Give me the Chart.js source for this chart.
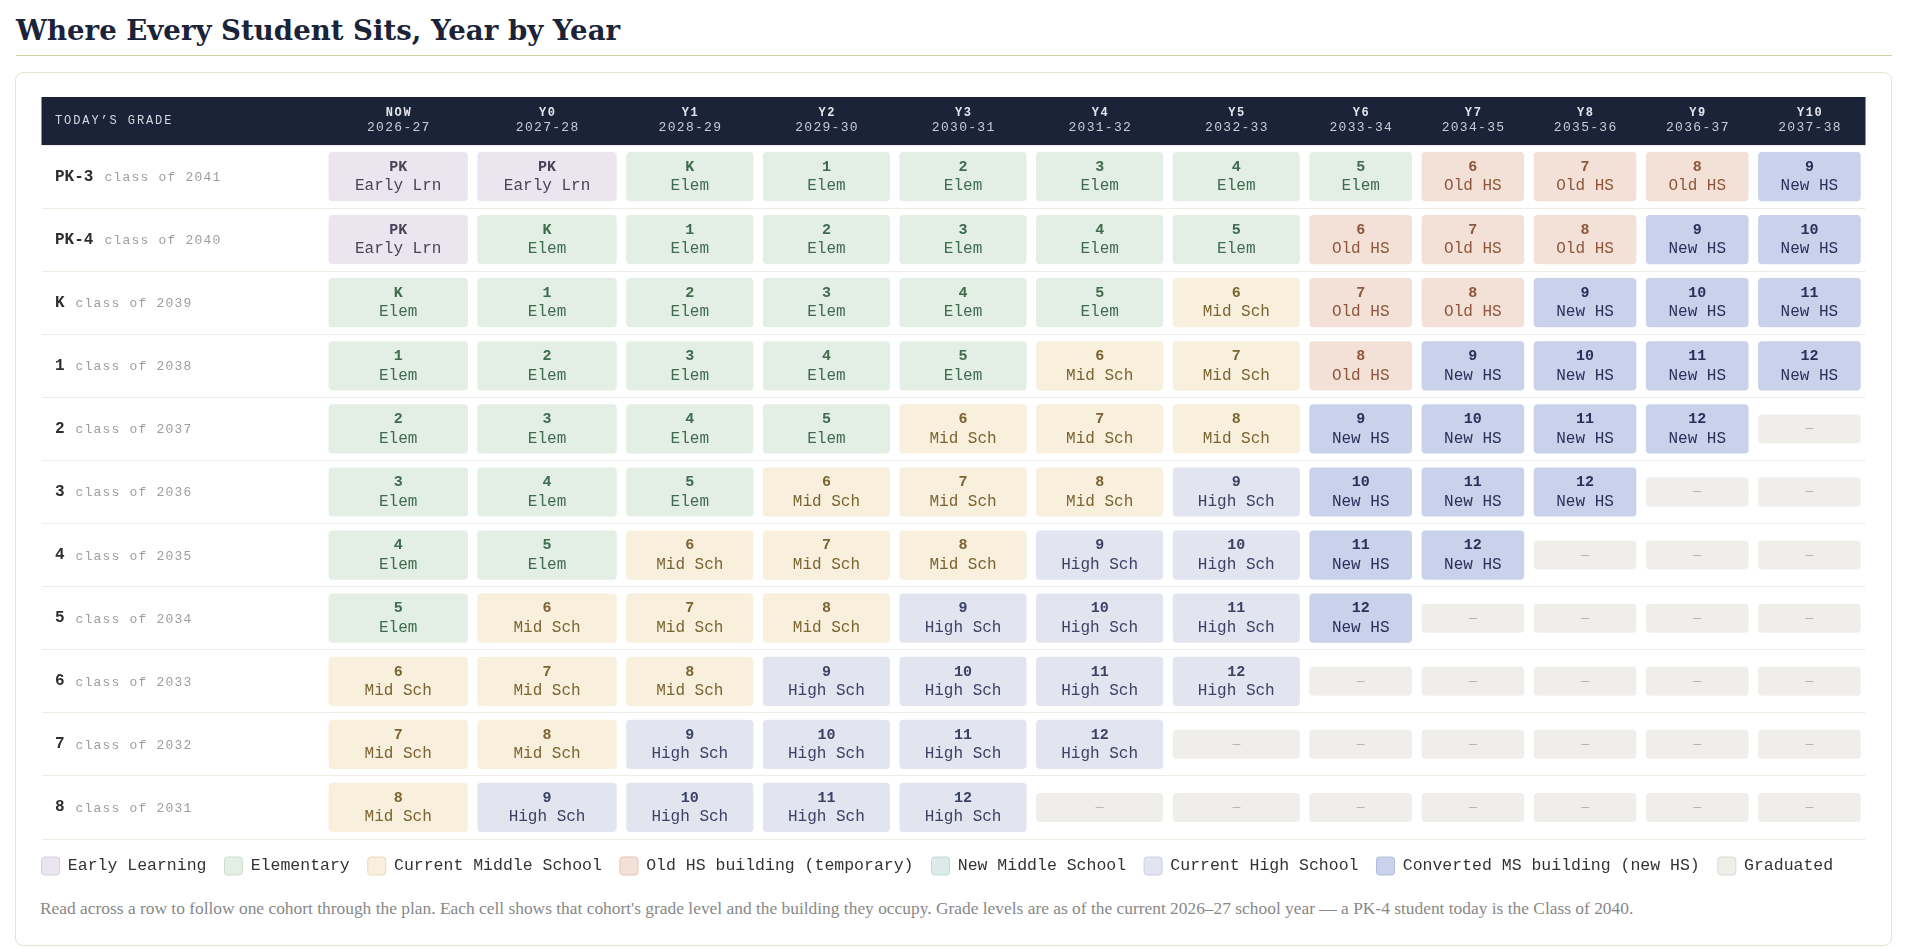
<!DOCTYPE html>
<html><head><meta charset="utf-8">
<script src="https://cdn.jsdelivr.net/npm/chart.js@4.4.1/dist/chart.umd.min.js"></script>
<style>
html,body{margin:0;padding:0;background:#fff;width:1920px;height:948px;overflow:hidden;}
#title{position:absolute;left:16px;top:17px;margin:0;font:bold 27.6px "DejaVu Serif",serif;color:#1b2338;line-height:27px;white-space:nowrap;}
#rule{position:absolute;left:16px;top:55px;width:1876px;height:1px;background:#d3cfa6;}
#card{position:absolute;left:15px;top:72px;width:1875px;height:872px;border:1px solid #e6e2d4;border-radius:8px;background:#fff;}
#wrap{position:absolute;left:16px;top:97px;width:1875px;height:788px;}
#note{position:absolute;left:40px;top:898px;font:17.4px "Liberation Serif",serif;color:#888;white-space:nowrap;line-height:20px;}
</style></head>
<body>
<h1 id="title">Where Every Student Sits, Year by Year</h1>
<div id="rule"></div>
<div id="card"></div>
<div id="wrap"><canvas id="c" width="1875" height="788" style="width:1875px;height:788px"></canvas></div>
<div id="note">Read across a row to follow one cohort through the plan. Each cell shows that cohort's grade level and the building they occupy. Grade levels are as of the current 2026–27 school year — a PK-4 student today is the Class of 2040.</div>
<script>
// ---------- data ----------
const cohorts = ['PK-3','PK-4','K','1','2','3','4','5','6','7','8'];
const classOf = [2041,2040,2039,2038,2037,2036,2035,2034,2033,2032,2031];
const yearCodes = ['NOW','Y0','Y1','Y2','Y3','Y4','Y5','Y6','Y7','Y8','Y9','Y10'];
const schoolYears = ['2026-27','2027-28','2028-29','2029-30','2030-31','2031-32','2032-33','2033-34','2034-35','2035-36','2036-37','2037-38'];
const gradeGrid = [
  ['PK','PK','K','1','2','3','4','5','6','7','8','9'],
  ['PK','K','1','2','3','4','5','6','7','8','9','10'],
  ['K','1','2','3','4','5','6','7','8','9','10','11'],
  ['1','2','3','4','5','6','7','8','9','10','11','12'],
  ['2','3','4','5','6','7','8','9','10','11','12',''],
  ['3','4','5','6','7','8','9','10','11','12','',''],
  ['4','5','6','7','8','9','10','11','12','','',''],
  ['5','6','7','8','9','10','11','12','','','',''],
  ['6','7','8','9','10','11','12','','','','',''],
  ['7','8','9','10','11','12','','','','','',''],
  ['8','9','10','11','12','','','','','','','']
];
const buildingGrid = [
  ['EL','EL','E','E','E','E','E','E','O','O','O','N'],
  ['EL','E','E','E','E','E','E','O','O','O','N','N'],
  ['E','E','E','E','E','E','M','O','O','N','N','N'],
  ['E','E','E','E','E','M','M','O','N','N','N','N'],
  ['E','E','E','E','M','M','M','N','N','N','N','G'],
  ['E','E','E','M','M','M','H','N','N','N','G','G'],
  ['E','E','M','M','M','H','H','N','N','G','G','G'],
  ['E','M','M','M','H','H','H','N','G','G','G','G'],
  ['M','M','M','H','H','H','H','G','G','G','G','G'],
  ['M','M','H','H','H','H','G','G','G','G','G','G'],
  ['M','H','H','H','H','G','G','G','G','G','G','G']
];
const buildingCodes = ['EL','E','M','O','NM','H','N','G'];
const buildingNames = ['Early Learning','Elementary','Current Middle School','Old HS building (temporary)','New Middle School','Current High School','Converted MS building (new HS)','Graduated'];
const buildingShort = ['Early Lrn','Elem','Mid Sch','Old HS','New MS','High Sch','New HS','—'];

// ---------- styles / layout ----------
const palette = {
  EL:{bg:'#ebe5ef',fg:'#4b4258',edge:'#d6cde0'},
  E: {bg:'#e3eee4',fg:'#3f6b4f',edge:'#cddfcf'},
  M: {bg:'#f8f0dc',fg:'#7c6432',edge:'#e8dbb9'},
  O: {bg:'#f3e0d7',fg:'#8e573b',edge:'#e2c5b6'},
  NM:{bg:'#dceaea',fg:'#3d6666',edge:'#c3d8d9'},
  H: {bg:'#e2e4f0',fg:'#3c4266',edge:'#cbcfe2'},
  N: {bg:'#c9d2ea',fg:'#27315a',edge:'#b1bddd'},
  G: {bg:'#efeeea',fg:'#b3afa5',edge:'#dcd9d0'}
};
const MONO = '"Liberation Mono", "Courier New", monospace';
const LABEL_COL = 23.1;   // width units of the row-label column
const COL_PAD = 3.18;     // extra width units per year column
const CELL_GAP = 0.78;    // gap between cells in width units
const HEADER_H = 48;

// column widths from the longest building label in each column (auto table-like)
const colWeights = yearCodes.map((_, c) => {
  let m = 0;
  buildingGrid.forEach(row => { if (row[c] !== 'G') m = Math.max(m, buildingShort[buildingCodes.indexOf(row[c])].length); });
  return m + COL_PAD;
});
const colStart = [];
colWeights.reduce((acc, w, i) => { colStart[i] = acc; return acc + w; }, LABEL_COL);
const xMax = LABEL_COL + colWeights.reduce((a, b) => a + b, 0);

const datasets = buildingCodes.map((code, bi) => {
  const data = [];
  buildingGrid.forEach((row, r) => row.forEach((b, c) => {
    if (b === code) data.push({x:[colStart[c] + CELL_GAP/2, colStart[c] + colWeights[c] - CELL_GAP/2], y:cohorts[r], grade:gradeGrid[r][c]});
  }));
  return {
    label: buildingNames[bi], code, data,
    backgroundColor: palette[code].bg,
    borderRadius: 4, borderSkipped: false, borderWidth: 0,
    grouped: false, categoryPercentage: 1,
    barPercentage: code === 'G' ? 0.46 : 0.78
  };
});

function spaced(ctx, text, x, y, ls, align) {
  let w = 0;
  for (const ch of text) w += ctx.measureText(ch).width + ls;
  w -= ls;
  let cx = align === 'center' ? x - w/2 : x;
  ctx.textAlign = 'left';
  for (const ch of text) { ctx.fillText(ch, cx, y); cx += ctx.measureText(ch).width + ls; }
  return w;
}

const tablePlugin = {
  id: 'tableText',
  afterDatasetsDraw(chart) {
    const ctx = chart.ctx;
    ctx.save();
    ctx.textBaseline = 'middle';
    chart.data.datasets.forEach((ds, di) => {
      const meta = chart.getDatasetMeta(di);
      const pal = palette[ds.code];
      meta.data.forEach((el, i) => {
        const cx = (el.x + el.base) / 2, cy = el.y;
        ctx.fillStyle = pal.fg;
        ctx.textAlign = 'center';
        if (ds.code === 'G') {
          ctx.font = '13px ' + MONO;
          ctx.fillText('—', cx, cy);
        } else {
          ctx.font = 'bold 15px ' + MONO;
          ctx.fillText(ds.data[i].grade, cx, cy - 9.5);
          ctx.font = '16px ' + MONO;
          ctx.fillText(buildingShort[buildingCodes.indexOf(ds.code)], cx, cy + 9.5);
        }
      });
    });
    // row labels
    const ys = chart.scales.y, ca = chart.chartArea;
    cohorts.forEach((lab, r) => {
      const y = ys.getPixelForValue(r);
      ctx.font = 'bold 16px ' + MONO;
      ctx.fillStyle = '#2e2e2e';
      ctx.textAlign = 'left';
      ctx.fillText(lab, ca.left + 13.5, y);
      const w = ctx.measureText(lab).width;
      ctx.font = '13px ' + MONO;
      ctx.fillStyle = '#9d9d9d';
      spaced(ctx, 'class of ' + classOf[r], ca.left + 13.5 + w + 11, y + 1, 1.2, 'left');
    });
    ctx.restore();
  },
  afterDraw(chart) {
    const ctx = chart.ctx, ca = chart.chartArea, xs = chart.scales.x;
    ctx.save();
    ctx.fillStyle = '#1b2338';
    ctx.fillRect(ca.left, ca.top - HEADER_H, ca.right - ca.left, HEADER_H);
    ctx.textBaseline = 'middle';
    ctx.fillStyle = '#d6d9e2';
    ctx.font = '12px ' + MONO;
    spaced(ctx, 'TODAY’S GRADE', ca.left + 13.5, ca.top - 24, 1.9, 'left');
    yearCodes.forEach((code, c) => {
      const x = xs.getPixelForValue(colStart[c] + colWeights[c] / 2);
      ctx.font = 'bold 12px ' + MONO;
      ctx.fillStyle = '#e4e6ec';
      spaced(ctx, code, x, ca.top - 32, 1.6, 'center');
      ctx.font = '13px ' + MONO;
      ctx.fillStyle = '#c9ccd6';
      spaced(ctx, schoolYears[c], x, ca.top - 17, 1.3, 'center');
    });
    ctx.restore();
  }
};

new Chart(document.getElementById('c'), {
  type: 'bar',
  data: { labels: cohorts, datasets },
  options: {
    indexAxis: 'y',
    responsive: false,
    animation: false,
    layout: { padding: { left: 7.6, right: 25.5, top: HEADER_H, bottom: 0 } },
    scales: {
      x: { type: 'linear', min: 0, max: xMax, display: false },
      y: {
        type: 'category',
        ticks: { display: false },
        grid: { color: '#efece4', lineWidth: 1, drawTicks: false, offset: true },
        border: { display: false },
        afterFit(scale) { scale.width = 17.9; }
      }
    },
    plugins: {
      tooltip: { enabled: false },
      legend: {
        position: 'bottom',
        align: 'start',
        labels: {
          boxWidth: 18, boxHeight: 18, padding: 18,
          useBorderRadius: true, borderRadius: 3,
          color: '#333',
          font: { family: MONO, size: 16.5 },
          generateLabels(chart) {
            return chart.data.datasets.map((ds, i) => ({
              text: ds.label, fillStyle: ds.backgroundColor,
              strokeStyle: palette[ds.code].edge, lineWidth: 1,
              hidden: false, datasetIndex: i, borderRadius: 3, fontColor: '#333'
            }));
          }
        }
      }
    }
  },
  plugins: [tablePlugin]
});
</script>
</body></html>
